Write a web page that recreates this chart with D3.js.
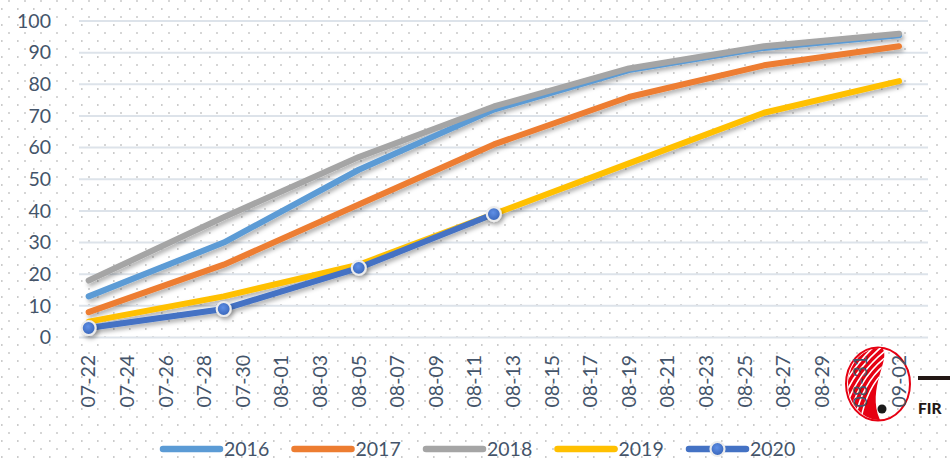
<!DOCTYPE html>
<html>
<head>
<meta charset="utf-8">
<script src="https://cdn.jsdelivr.net/npm/d3@7"></script>
<style>
  html, body { margin: 0; padding: 0; background: #fff; }
  svg { display: block; }
  text { font-family: Lato, "Open Sans", sans-serif; }
</style>
</head>
<body>
<svg id="chart" width="950" height="459"></svg>
<script>
// Category axis: one slot per day
const categories = [
  "07-22","07-23","07-24","07-25","07-26","07-27","07-28","07-29","07-30","07-31",
  "08-01","08-02","08-03","08-04","08-05","08-06","08-07","08-08","08-09","08-10",
  "08-11","08-12","08-13","08-14","08-15","08-16","08-17","08-18","08-19","08-20",
  "08-21","08-22","08-23","08-24","08-25","08-26","08-27","08-28","08-29","08-30",
  "08-31","09-01","09-02","09-03"
];
// Weekly observation days
const sampleDates = ["07-22","07-29","08-05","08-12","08-19","08-26","09-02"];
// Values per year (null = no observation)
const values2016 = [13, 30, 53, 72, 84.5, 91.5, 95.5];
const values2017 = [8, 23, 42, 61, 76, 86, 92];
const values2018 = [18, 38, 57, 73, 85, 92, 96];
const values2019 = [5, 13, 23, 39, 55, 71, 81];
const values2020 = [3, 9, 22, 39, null, null, null];
const seriesNames = ["2016", "2017", "2018", "2019", "2020"];
const yTicks = [0, 10, 20, 30, 40, 50, 60, 70, 80, 90, 100];

const colors = ["#5b9bd5", "#ed7d31", "#a5a5a5", "#ffc000", "#4472c4"];
const allValues = [values2016, values2017, values2018, values2019, values2020];

const svg = d3.select("#chart");
const W = 950, H = 459;
const plot = { left: 79, right: 928, top: 21, bottom: 337.5 };
const textColor = "#44546a";

const defs = svg.append("defs");

// dotted paper background
const pat = defs.append("pattern")
  .attr("id", "dots").attr("patternUnits", "userSpaceOnUse")
  .attr("width", 16).attr("height", 16);
pat.append("rect").attr("x", 1).attr("y", 8.2).attr("width", 1.6).attr("height", 1.6).attr("fill", "#bfbfbf");
pat.append("rect").attr("x", 8.2).attr("y", 0.2).attr("width", 1.6).attr("height", 1.6).attr("fill", "#bfbfbf");

// soft shadow under lines
const sh = defs.append("filter").attr("id", "shadow")
  .attr("x", "-10%").attr("y", "-10%").attr("width", "130%").attr("height", "130%");
sh.append("feDropShadow").attr("dx", 2).attr("dy", 3).attr("stdDeviation", 2)
  .attr("flood-color", "#000").attr("flood-opacity", 0.3);

// marker fill
const rg = defs.append("radialGradient").attr("id", "markerFill")
  .attr("cx", "45%").attr("cy", "40%").attr("r", "60%");
rg.append("stop").attr("offset", "0%").attr("stop-color", "#5f8fe6");
rg.append("stop").attr("offset", "100%").attr("stop-color", "#3764b8");

svg.append("rect").attr("width", W).attr("height", H).attr("fill", "#fff");
svg.append("rect").attr("width", W).attr("height", H).attr("fill", "url(#dots)");

// scales
const x = d3.scaleBand().domain(categories).range([plot.left, plot.right]).padding(0);
const xc = d => x(d) + x.bandwidth() / 2;
const y = d3.scaleLinear().domain([0, 100]).range([plot.bottom, plot.top]);

// horizontal gridlines
svg.append("g").selectAll("line").data(yTicks).join("line")
  .attr("x1", plot.left).attr("x2", plot.right)
  .attr("y1", d => y(d)).attr("y2", d => y(d))
  .attr("stroke", "#dde3ea").attr("stroke-width", 2);

// y axis labels
const yAxis = d3.axisLeft(y).tickValues(yTicks).tickSize(0).tickPadding(0);
const yg = svg.append("g").attr("transform", `translate(51,0)`).call(yAxis);
yg.select(".domain").remove();
yg.selectAll("text").attr("font-size", 19.5).attr("fill", textColor)
  .attr("font-family", "Lato, 'Open Sans', sans-serif");

// logo in the lower right corner
const logo = svg.append("g").attr("transform", "translate(878,384)");
const flamePath = "M 0,36 A 32,36 0 0 1 4,-36 C 14,-26 -12,4 2,36 Z";
defs.append("clipPath").attr("id", "flameClip").append("path").attr("d", flamePath);
logo.append("ellipse").attr("rx", 32).attr("ry", 36.5)
  .attr("fill", "none").attr("stroke", "#e60012").attr("stroke-width", 2);
logo.append("path").attr("d", flamePath).attr("fill", "#e60012");
const stripes = logo.append("g").attr("clip-path", "url(#flameClip)");
[-14, -8, -2, 4, 10, 16].forEach(o => {
  stripes.append("path")
    .attr("d", `M ${-34 + o},${40} Q ${-26 + o},${-8} ${14 + o * 0.4},${-36 + o * 0.9}`)
    .attr("fill", "none").attr("stroke", "#fff").attr("stroke-width", 1.6);
});
logo.append("circle").attr("cx", 4).attr("cy", 25).attr("r", 4.5).attr("fill", "#1a1a1a");
svg.append("rect").attr("x", 918).attr("y", 376).attr("width", 34).attr("height", 4).attr("fill", "#231815");
svg.append("text").attr("x", 918).attr("y", 414).attr("font-size", 15.5).attr("font-weight", 900)
  .attr("fill", "#231815").attr("font-family", "'Liberation Sans', Arial, sans-serif").text("FIR");

// x axis labels, every other day, rotated
const xLabels = categories.filter((d, i) => i % 2 === 0);
svg.append("g").selectAll("text").data(xLabels).join("text")
  .attr("transform", d => `translate(${xc(d)},355) rotate(-90)`)
  .attr("text-anchor", "end").attr("dy", "0.35em")
  .attr("font-size", 19.5).attr("fill", textColor).text(d => d);

// lines
const line = d3.line()
  .defined(d => d.v != null)
  .x(d => xc(d.date)).y(d => y(d.v));

const series = seriesNames.map((name, i) => ({
  name, color: colors[i],
  points: sampleDates.map((date, j) => ({ date, v: allValues[i][j] }))
}));

const lines = svg.append("g").attr("filter", "url(#shadow)");
series.forEach(s => {
  lines.append("path").datum(s.points)
    .attr("d", line)
    .attr("fill", "none").attr("stroke", s.color).attr("stroke-width", 6)
    .attr("stroke-linecap", "round").attr("stroke-linejoin", "round");
});

// markers for 2020
const s2020 = series[4];
svg.append("g").attr("filter", "url(#shadow)").selectAll("circle")
  .data(s2020.points.filter(d => d.v != null)).join("circle")
  .attr("cx", d => xc(d.date)).attr("cy", d => y(d.v)).attr("r", 7)
  .attr("fill", "url(#markerFill)").attr("stroke", "#ececec").attr("stroke-width", 2.2);

// legend
const legend = svg.append("g");
const legendX0 = 163, legendStep = 131.5, legendY = 449;
series.forEach((s, i) => {
  const gx = legendX0 + i * legendStep;
  const g = legend.append("g").attr("transform", `translate(${gx},${legendY})`);
  g.append("line").attr("x1", 0).attr("x2", 57).attr("y1", 0).attr("y2", 0)
    .attr("stroke", s.color).attr("stroke-width", 6.5).attr("stroke-linecap", "round");
  if (s.name === "2020") {
    g.append("circle").attr("cx", 28.5).attr("cy", 0).attr("r", 7)
      .attr("fill", "url(#markerFill)").attr("stroke", "#ececec").attr("stroke-width", 2.2);
  }
  g.append("text").attr("x", 61).attr("y", 0).attr("dy", "0.36em")
    .attr("font-size", 19.5).attr("fill", textColor).text(s.name);
});
</script>
</body>
</html>
